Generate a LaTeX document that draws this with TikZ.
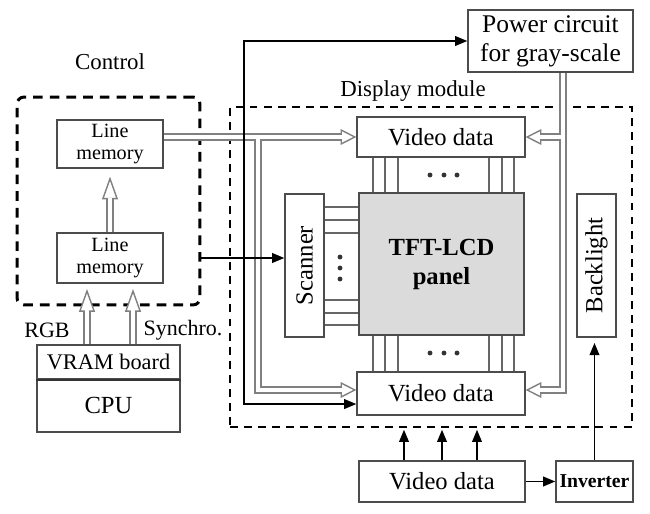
\documentclass[tikz,border=0pt]{standalone}
\usepackage{fontspec}
\usepackage{graphicx}
\setmainfont{Liberation Serif}
\usetikzlibrary{arrows.meta}

\tikzset{
  box/.style={draw=black!70, line width=0.75pt, inner sep=0pt, align=center, font=\fontsize{14}{16.5}\selectfont},
  small/.style={font=\fontsize{11.5}{12.5}\selectfont},
  lbl/.style={inner sep=0pt, font=\fontsize{13}{15}\selectfont},
  dashbox/.style={draw, line width=1.1pt, dash pattern=on 4.5pt off 3.5pt},
  arr/.style={draw, line width=1.1pt, -{Triangle[length=7pt,width=5.5pt]}},
  bus/.style={draw=black!60, line width=0.8pt},
  pipetip/.style={draw=gray, line width=0.8pt, -{Triangle[length=#1,width=9pt,fill=white]}},
  pipeout/.style={draw=gray, line width=4.4pt, shorten >=#1},
  pipein/.style={draw=white, line width=2.6pt, shorten >=#1},
}

\begin{document}
\begin{tikzpicture}[x=0.02cm, y=-0.02cm]
  \useasboundingbox (0,0) rectangle (650,514);

  % frames
  \node[dashbox, line width=1.7pt, rounded corners=4pt, dash pattern=on 5.5pt off 4pt,
        minimum width=3.66cm, minimum height=4.16cm] (ctrl) at (108.5,201) {};
  \node[lbl] (ctrllbl) at (110,62) {Control};
  \node[dashbox, minimum width=8.04cm, minimum height=6.4cm] (dm) at (431,267) {};
  \node[lbl] (dmlbl) at (413,91) {Display module};

  % control side
  \node[box, small, minimum width=2.12cm, minimum height=0.96cm] (lm1) at (110,144) {Line\\memory};
  \node[box, small, minimum width=2.12cm, minimum height=1cm] (lm2) at (110,258) {Line\\memory};
  \node[box, font=\fontsize{12.7}{14}\selectfont, minimum width=2.86cm, minimum height=0.68cm] (vram) at (108.5,362) {VRAM board};
  \node[box, minimum width=2.86cm, minimum height=1.06cm] (cpu) at (108.5,405.5) {CPU};
  \draw[black!80, line width=1.1pt] (vram.south west) -- (vram.south east);
  \node[lbl, font=\fontsize{12.5}{14}\selectfont] (rgblbl) at (47,330) {RGB};
  \node[lbl, font=\fontsize{12.5}{14}\selectfont] (synlbl) at (183,330) {Synchro.};

  % display module
  \node[box, font=\fontsize{14.5}{16.5}\selectfont, minimum width=3.3cm, minimum height=1.24cm] (pwr) at (550.5,41) {Power circuit\\for gray-scale};
  \node[box, minimum width=3.36cm, minimum height=0.8cm] (vd1) at (441,137) {Video data};
  \node[box, fill=gray!28, font=\bfseries\fontsize{14}{16.5}\selectfont, minimum width=3.3cm, minimum height=2.84cm] (panel) at (441.5,264) {TFT-LCD\\panel};
  \node[box, minimum width=3.36cm, minimum height=0.86cm] (vd2) at (441,393.5) {Video data};
  \node[box, minimum width=0.78cm, minimum height=2.86cm] (scan) at (304.5,265.5) {\rotatebox{90}{Scanner}};
  \node[box, minimum width=0.78cm, minimum height=2.86cm] (bl) at (596.5,265.5) {\rotatebox{90}{Backlight}};
  \node[box, minimum width=3.32cm, minimum height=0.82cm] (vd3) at (442,481.5) {Video data};
  \node[box, font=\bfseries\fontsize{11.2}{13}\selectfont, minimum width=1.54cm, minimum height=0.82cm] (inv) at (594.5,481.5) {Inverter};

  % data lines to the panel
  \foreach \x in {373,385,398,489,502,514} {
    \draw[bus] (\x,0 |- vd1.south) -- (\x,0 |- panel.north);
    \draw[bus] (\x,0 |- panel.south) -- (\x,0 |- vd2.north);
  }
  \foreach \y in {207,220,233,300,313,325}
    \draw[bus] (scan.east |- 0,\y) -- (panel.west |- 0,\y);
  \foreach \x in {430,444,457} {
    \fill[black!80] (\x,175) circle (1.4pt);
    \fill[black!80] (\x,353) circle (1.4pt);
  }
  \foreach \y in {257,268,279}
    \fill[black!80] (340,\y) circle (1.4pt);

  % hollow buses
  \coordinate (pl) at (258,0);
  \coordinate (pr) at (563,0);
  \coordinate (rgb) at (87,0);
  \coordinate (syn) at (133,0);
  \foreach \layer/\len in {pipetip/9pt,pipeout/9pt,pipein/8pt} {
    \draw[\layer=\len] (lm1.east |- vd1.west) -- (vd1.west);
    \draw[\layer=\len] (pl |- vd1.west) |- ([yshift=2pt]vd2.west);
    \draw[\layer=\len] (pr |- vd1.east) -- (vd1.east);
    \draw[\layer=\len] (pr |- pwr.south) |- ([yshift=2pt]vd2.east);
  }
  \foreach \layer/\len in {pipetip/13pt,pipeout/13pt,pipein/12pt} {
    \draw[\layer=\len] (lm2.north) -- ([yshift=-4.5pt]lm1.south);
    \draw[\layer=\len] (rgb |- vram.north) -- ([yshift=-3pt]rgb |- lm2.south);
    \draw[\layer=\len] (syn |- vram.north) -- ([yshift=-3pt]syn |- lm2.south);
  }

  % control lines
  \coordinate (jn) at (244,258);
  \draw[arr] (ctrl.east |- lm2) -- (scan.west |- lm2);
  \draw[arr] (jn) |- (pwr.west);
  \draw[arr] (jn) |- ([yshift=-6pt]vd2.west);
  \foreach \x in {404,442,477}
    \draw[arr, shorten >=1pt] (\x,0 |- vd3.north) -- (\x,0 |- dm.south);
  \draw[arr] (vd3) -- (inv);
  \draw[arr, shorten >=3pt] (inv.north) -- (inv.north |- bl.south);
\end{tikzpicture}
\end{document}
